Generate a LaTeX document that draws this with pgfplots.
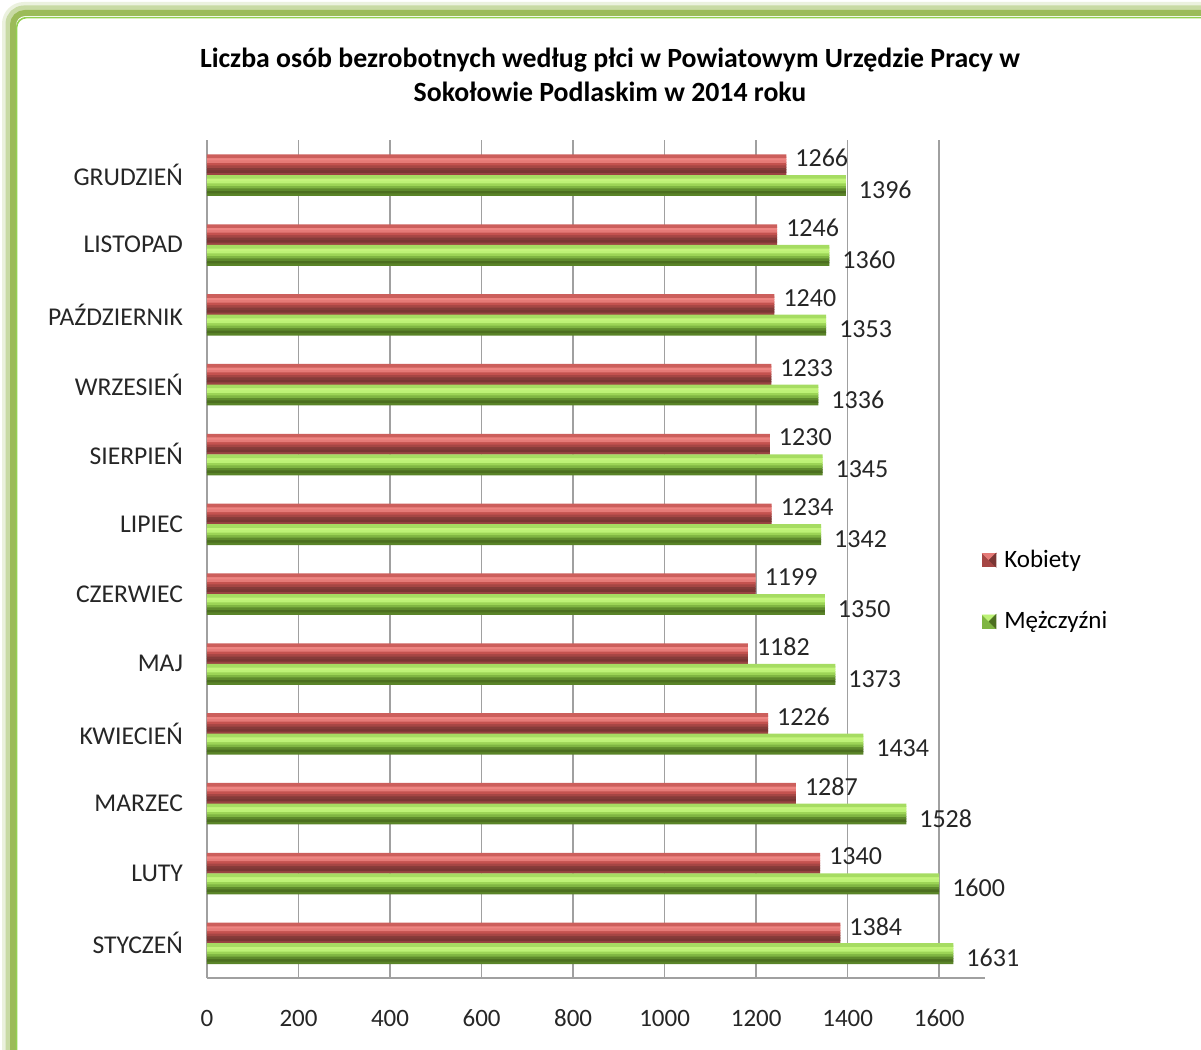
\documentclass[border=0pt]{standalone}
\usepackage{pgfplots}
\usepackage{pgfplotstable}
\pgfplotsset{compat=1.18}
\usepackage{fontspec}
\setmainfont{Carlito}

\definecolor{frameolive}{RGB}{155,187,89}
\definecolor{framegreen}{RGB}{146,208,80}
\definecolor{gridgray}{RGB}{160,160,160}
% red bar bands, bottom to top
\definecolor{rA}{RGB}{154,68,66}
\definecolor{rB}{RGB}{122,54,52}
\definecolor{rC}{RGB}{133,59,57}
\definecolor{rD}{RGB}{165,70,68}
\definecolor{rE}{RGB}{196,82,79}
\definecolor{rF}{RGB}{229,122,119}
\definecolor{rG}{RGB}{238,133,130}
\definecolor{rH}{RGB}{204,95,92}
% green bar bands, bottom to top
\definecolor{gA}{RGB}{90,132,40}
\definecolor{gB}{RGB}{76,111,32}
\definecolor{gC}{RGB}{94,138,44}
\definecolor{gD}{RGB}{127,181,66}
\definecolor{gE}{RGB}{156,212,86}
\definecolor{gF}{RGB}{189,242,118}
\definecolor{gG}{RGB}{196,244,124}
\definecolor{gH}{RGB}{166,220,98}

% month index: 0 = styczeń ... 11 = grudzień
\pgfplotstableread{
val idx
1384 0
1340 1
1287 2
1226 3
1182 4
1199 5
1234 6
1230 7
1233 8
1240 9
1246 10
1266 11
}\kobiety
\pgfplotstableread{
val idx
1631 0
1600 1
1528 2
1434 3
1373 4
1350 5
1342 6
1345 7
1336 8
1353 9
1360 10
1396 11
}\mezczyzni

\newcommand{\stripe}[3]{%
  \addplot[xbar, bar width=0.052, bar shift=#2, draw=none, fill=#3, forget plot]
    table[x=val, y=idx] {#1};}

\begin{document}
\begin{tikzpicture}
\path[use as bounding box] (0pt,0pt) rectangle (600.5pt,525pt);
\begin{scope}
\clip (0pt,0pt) rectangle (600.5pt,525pt);
% frame with glow
\draw[frameolive!20, line width=6pt, rounded corners=8pt] (4pt,521pt) rectangle (620pt,-20pt);
\draw[frameolive!55, line width=4.5pt, rounded corners=7pt] (5pt,520pt) rectangle (619pt,-19pt);
\draw[frameolive, line width=3pt, rounded corners=6pt] (6.5pt,518.5pt) rectangle (618pt,-18pt);
\draw[framegreen, line width=0.8pt, rounded corners=5pt] (8.3pt,516.2pt) rectangle (616pt,-16pt);
\end{scope}

\node[align=center, font=\fontsize{13.9pt}{17pt}\selectfont\bfseries] at (305pt,487.5pt)
  {Liczba osób bezrobotnych według płci w Powiatowym Urzędzie Pracy w\\Sokołowie Podlaskim w 2014 roku};

\begin{axis}[
    at={(103.5pt,36pt)}, anchor=south west,
    width=389pt, height=419pt, scale only axis,
    xmin=0, xmax=1700, ymin=-0.5, ymax=11.5,
    axis x line*=bottom, axis y line*=left,
    axis line style={draw=gridgray, line width=0.75pt, -},
    xtick={0,200,...,1600},
    ytick={0,...,11},
    yticklabels={STYCZEŃ,LUTY,MARZEC,KWIECIEŃ,MAJ,CZERWIEC,LIPIEC,SIERPIEŃ,WRZESIEŃ,PAŹDZIERNIK,LISTOPAD,GRUDZIEŃ},
    major tick length=0pt,
    xtick pos=bottom, ytick pos=left,
    xmajorgrids,
    major grid style={draw=gridgray, line width=0.75pt},
    /pgf/number format/assume math mode=true,
    /pgf/number format/1000 sep={},
    tick label style={font=\fontsize{12.5pt}{15pt}\selectfont, text=black!85},
    xticklabel style={anchor=base, yshift=-24.5pt},
    yticklabel style={xshift=-8.5pt, font=\fontsize{12.8pt}{15pt}\selectfont},
    legend style={at={(0.996,0.462)}, anchor=west, draw=none, fill=none,
        font=\fontsize{12.5pt}{15pt}\selectfont, row sep=16.5pt, inner xsep=0pt,
        cells={anchor=west}, nodes={inner xsep=4pt}},
    clip=false,
]
% Kobiety (red), 8 bands
\stripe{\kobiety}{0.0194}{rA}
\stripe{\kobiety}{0.0553}{rB}
\stripe{\kobiety}{0.0912}{rC}
\stripe{\kobiety}{0.1271}{rD}
\stripe{\kobiety}{0.1630}{rE}
\stripe{\kobiety}{0.1989}{rF}
\stripe{\kobiety}{0.2348}{rG}
\stripe{\kobiety}{0.2667}{rH}
% Mężczyźni (green), 8 bands
\stripe{\mezczyzni}{-0.2756}{gA}
\stripe{\mezczyzni}{-0.2397}{gB}
\stripe{\mezczyzni}{-0.2038}{gC}
\stripe{\mezczyzni}{-0.1679}{gD}
\stripe{\mezczyzni}{-0.1320}{gE}
\stripe{\mezczyzni}{-0.0961}{gF}
\stripe{\mezczyzni}{-0.0602}{gG}
\stripe{\mezczyzni}{-0.0283}{gH}
% value labels
\addplot[xbar, bar width=0.01, bar shift=0.163, draw=none, fill=none, forget plot,
    nodes near coords, point meta=x,
    every node near coord/.style={anchor=west, xshift=1pt, yshift=8.3pt,
        font=\fontsize{13pt}{15pt}\selectfont, text=black!85}]
  table[x=val, y=idx] {\kobiety};
\addplot[xbar, bar width=0.01, bar shift=-0.168, draw=none, fill=none, forget plot,
    nodes near coords, point meta=x,
    every node near coord/.style={anchor=west, xshift=3pt, yshift=-7.5pt,
        font=\fontsize{13pt}{15pt}\selectfont, text=black!85}]
  table[x=val, y=idx] {\mezczyzni};
% legend
\addlegendimage{legend image code/.code={
    \fill[rD] (0pt,-3.3pt) rectangle (6.6pt,3.3pt);
    \fill[rF] (0pt,3.3pt) -- (6.6pt,3.3pt) -- (3.3pt,0pt) -- cycle;
    \fill[rB] (6.6pt,3.3pt) -- (6.6pt,-3.3pt) -- (3.3pt,0pt) -- cycle;}}
\addlegendentry{Kobiety}
\addlegendimage{legend image code/.code={
    \fill[gD] (0pt,-3.3pt) rectangle (6.6pt,3.3pt);
    \fill[gF] (0pt,3.3pt) -- (6.6pt,3.3pt) -- (3.3pt,0pt) -- cycle;
    \fill[gB] (6.6pt,3.3pt) -- (6.6pt,-3.3pt) -- (3.3pt,0pt) -- cycle;}}
\addlegendentry{Mężczyźni}
\end{axis}
\end{tikzpicture}
\end{document}
